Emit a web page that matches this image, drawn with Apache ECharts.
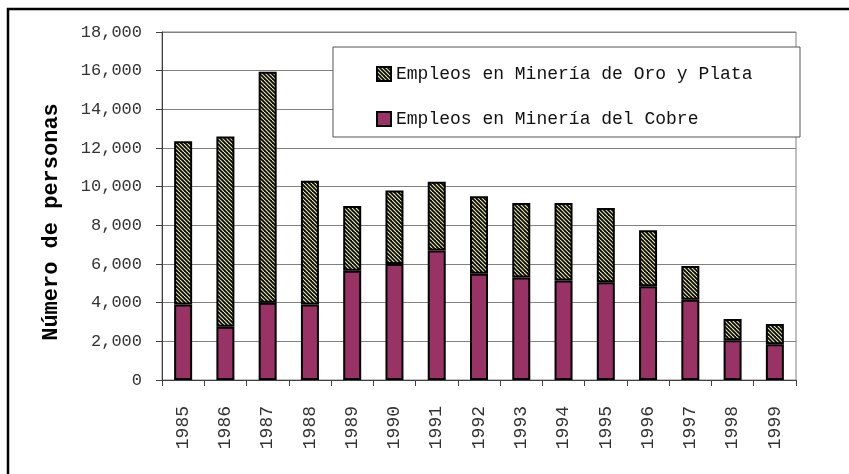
<!DOCTYPE html>
<html><head><meta charset="utf-8">
<script src="https://cdn.jsdelivr.net/npm/echarts@6/dist/echarts.min.js"></script>
<style>html,body{margin:0;padding:0;background:#fff}#c{width:849px;height:474px}</style>
</head><body><div id="c"></div>
<script>
const years = ['1985','1986','1987','1988','1989','1990','1991','1992','1993','1994','1995','1996','1997','1998','1999'];
const cobre = [3900, 2750, 4000, 3900, 5650, 6000, 6700, 5500, 5300, 5150, 5050, 4850, 4150, 2050, 1850];
const oroPlata = [8450, 9850, 11950, 6400, 3350, 3800, 3550, 4000, 3850, 4000, 3850, 2900, 1750, 1100, 1050];
const seriesNames = ['Empleos en Minería del Cobre', 'Empleos en Minería de Oro y Plata'];
const yTitle = 'Número de personas';

function stripes(){
  const c = document.createElement('canvas'); c.width = 8; c.height = 8;
  const g = c.getContext('2d');
  g.fillStyle = '#000'; g.fillRect(0,0,8,8);
  g.strokeStyle = '#ecec9c'; g.lineWidth = 1.15;
  for (let k = -8; k <= 8; k += 4) { g.beginPath(); g.moveTo(k,0); g.lineTo(k+8,8); g.stroke(); }
  return c;
}
function fmt(v){ return String(v).replace(/\B(?=(\d{3})+(?!\d))/g, ','); }

const chart = echarts.init(document.getElementById('c'));
const mono = '"Liberation Mono", "Courier New", monospace';
chart.setOption({
  animation: false,
  backgroundColor: '#fff',
  grid: { left: 162, right: 53, top: 32, bottom: 94, show: true, borderColor: '#808080', borderWidth: 1, backgroundColor: 'transparent' },
  graphic: [
    { type: 'rect', shape: { x: 8, y: 9, width: 850, height: 480 }, style: { fill: 'none', stroke: '#000', lineWidth: 2.5 }, z: 1 },
    { type: 'rect', shape: { x: 333, y: 47, width: 467, height: 90 }, style: { fill: '#fff', stroke: '#555', lineWidth: 1 }, z: 5 }
  ],
  legend: {
    orient: 'vertical', left: 376, top: 65, padding: 0, itemWidth: 14, itemHeight: 14, itemGap: 27,
    icon: 'rect', z: 10,
    data: [seriesNames[1], seriesNames[0]],
    textStyle: { fontFamily: mono, fontSize: 18, color: '#111' }
  },
  xAxis: {
    type: 'category', data: years,
    axisLine: { lineStyle: { color: '#404040', width: 1 } },
    axisTick: { show: true, length: 6, alignWithLabel: false, lineStyle: { color: '#404040' } },
    axisLabel: { rotate: 90, margin: 26, fontFamily: mono, fontSize: 18, color: '#333' }
  },
  yAxis: {
    type: 'value', min: 0, max: 18000, interval: 2000,
    name: yTitle, nameLocation: 'middle', nameGap: 100,
    nameTextStyle: { fontFamily: mono, fontWeight: 'bold', fontSize: 22, color: '#000', padding: [0, 32, 0, 0] },
    axisLine: { show: true, lineStyle: { color: '#404040', width: 1 } },
    axisTick: { show: true, length: 6, lineStyle: { color: '#404040' } },
    splitLine: { lineStyle: { color: '#808080', width: 1 } },
    axisLabel: { margin: 20, fontFamily: mono, fontSize: 17, color: '#333', formatter: fmt }
  },
  series: [
    { name: seriesNames[0], type: 'bar', stack: 'a', data: cobre, barWidth: 18,
      itemStyle: { color: '#993366', borderColor: '#000', borderWidth: 2 } },
    { name: seriesNames[1], type: 'bar', stack: 'a', data: oroPlata, barWidth: 18,
      itemStyle: { color: { image: stripes(), repeat: 'repeat' }, borderColor: '#000', borderWidth: 2 } }
  ]
});
</script>
</body></html>
